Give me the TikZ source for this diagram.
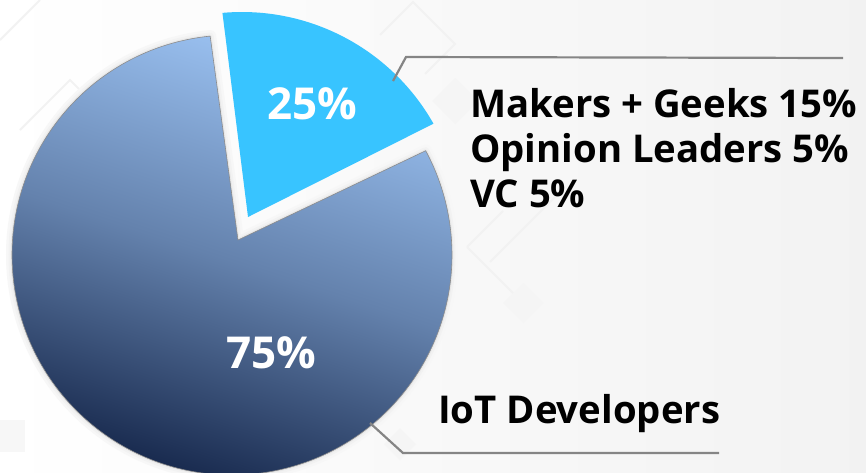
\documentclass[tikz,border=0pt]{standalone}
\usepackage{fontspec}
\setmainfont{Open Sans}
\usetikzlibrary{calc}
\definecolor{sliceCyan}{HTML}{38C4FF}
\definecolor{pieLight}{HTML}{9DC4F4}
\definecolor{pieDark}{HTML}{15264A}
\definecolor{leaderGray}{HTML}{858585}
\tikzset{
  leader/.style={draw=leaderGray, line width=2.2pt},
  lbl/.style={font=\bfseries\fontsize{38.3}{44}\selectfont, anchor=base west, inner sep=0pt},
  pct/.style={font=\bfseries\fontsize{44}{50}\selectfont, text=white, inner sep=0pt},
  deco/.style={fill=black!4},
  decoline/.style={draw=black!5, line width=2pt},
}

\begin{document}
\begin{tikzpicture}[x=1pt,y=-1pt]
\shade[left color=white, right color=black!5] (0,0) rectangle (866,472);
\useasboundingbox (0,0) rectangle (866,472);

\draw[decoline] (0,40) -- (40,0);
\draw[decoline] (20,130) -- (70,80) -- (120,130);
\draw[decoline] (380,35) -- (413,2) -- (455,44) -- (425,74);
\draw[decoline] (467,247) -- (503,211);
\draw[decoline] (490,262) -- (556,196);
\draw[decoline] (467,247) -- (523,303);
\fill[deco] (523,283) -- (543,303) -- (523,323) -- (503,303) -- cycle;
\fill[deco] (455,78) -- (478,101) -- (455,124) -- (432,101) -- cycle;
\fill[deco] (400,428) -- (416,444) -- (400,460) -- (384,444) -- cycle;
\fill[black!3] (0,420) rectangle (25,452);

\foreach \w/\o in {12/3,7/5,3/9}
  \draw[black!\o, line width=\w pt, line join=round]
    (238,240) -- ($(232,255)+(-95.7:220)$) arc[start angle=-95.7, end angle=-388.3, radius=220] -- cycle;
\shade[top color=pieLight, bottom color=pieDark, middle color=pieLight!58!pieDark, shading angle=-18, draw=black!45, line width=0.6pt]
  (238,240) -- ($(232,255)+(-95.7:220)$) arc[start angle=-95.7, end angle=-388.3, radius=220] -- cycle;
\fill[sliceCyan]
  (248,217) -- ($(242,232)+(-29.5:220)$) arc[start angle=-29.5, end angle=-95.1, radius=220] -- cycle;

\node[pct] (p25) at (312,104) {25\%};
\node[pct] (p75) at (271,353) {75\%};

\node[lbl] (makers) at (470,117) {Makers + Geeks 15\%};
\node[lbl] (opinion) at (470,162) {Opinion Leaders 5\%};
\node[lbl] (vc) at (470,207) {VC 5\%};
\node[lbl] (iot) at (438,423) {IoT Developers};

\coordinate (tipA) at (393,81);
\coordinate (kneeA) at (406,57);
\coordinate (endA) at (843,58);
\coordinate (tipB) at (370,423);
\coordinate (kneeB) at (403,453);
\coordinate (endB) at (719,453);
\draw[leader] (tipA) -- (kneeA) -- (endA);
\draw[leader] (tipB) -- (kneeB) -- (endB);
\end{tikzpicture}
\end{document}
